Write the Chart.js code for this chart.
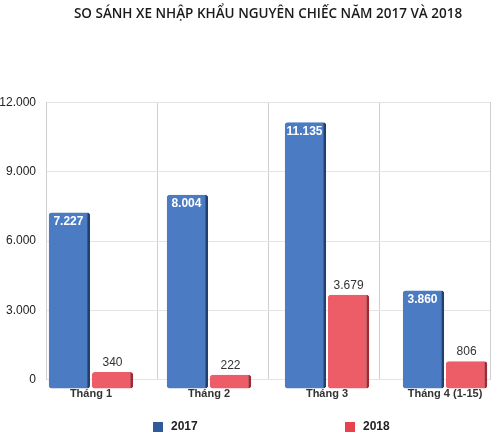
<!DOCTYPE html>
<html>
<head>
<meta charset="utf-8">
<script src="https://cdn.jsdelivr.net/npm/chart.js@4/dist/chart.umd.min.js"></script>
<style>
  html, body { margin:0; padding:0; background:#fff; }
  #wrap { width:500px; height:436px; }
</style>
</head>
<body>
<div id="wrap"><canvas id="chart" width="500" height="436"></canvas></div>
<script>
const titleText = "SO SÁNH XE NHẬP KHẨU NGUYÊN CHIẾC NĂM 2017 VÀ 2018";
const months = ["Tháng 1", "Tháng 2", "Tháng 3", "Tháng 4 (1-15)"];
const years = ["2017", "2018"];
const values2017 = [7227, 8004, 11135, 3860];
const values2018 = [340, 222, 3679, 806];
const yTicks = [0, 3000, 6000, 9000, 12000];

const fill = ["#4a7bc3", "#ec5d67"];
const side = ["#22406e", "#9e2a36"];
const legendFill = ["#2f5b9c", "#e8414f"];

function fmt(v){ return String(v).replace(/\B(?=(\d{3})+(?!\d))/g, "."); }

// value labels: 2017 inside the top (white), 2018 above the bar
const valueLabels = {
  id: "valueLabels",
  afterDatasetsDraw(chart) {
    const ctx = chart.ctx;
    ctx.save();
    ctx.textAlign = "center";
    ctx.textBaseline = "middle";
    chart.data.datasets.forEach((ds, i) => {
      chart.getDatasetMeta(i).data.forEach((bar, j) => {
        const v = ds.data[j].y;
        if (i === 0) {
          ctx.font = "bold 12px 'Liberation Sans', Arial";
          ctx.fillStyle = "#ffffff";
          ctx.fillText(fmt(v), bar.x - 1, bar.y + 9);
        } else {
          ctx.font = "12px 'Liberation Sans', Arial";
          ctx.fillStyle = "#333333";
          ctx.fillText(fmt(v), bar.x, bar.y - 9);
        }
      });
    });
    ctx.restore();
  }
};

// spread-out legend along the bottom
const wideLegend = {
  id: "wideLegend",
  afterDraw(chart) {
    const ctx = chart.ctx;
    const y = chart.height - 9;
    const xs = [chart.width * 0.306, chart.width * 0.69];
    ctx.save();
    ctx.font = "bold 12px 'Liberation Sans', Arial";
    ctx.textBaseline = "middle";
    ctx.textAlign = "left";
    years.forEach((yr, i) => {
      ctx.fillStyle = legendFill[i];
      ctx.fillRect(xs[i], y - 5, 10, 10);
      ctx.fillStyle = "#222";
      ctx.fillText(yr, xs[i] + 18, y);
    });
    ctx.restore();
  }
};

const sets = [values2017, values2018].map((vals, i) => ({
  label: years[i],
  data: vals.map((v, k) => ({ x: k, y: v })),
  backgroundColor: fill[i],
  borderColor: side[i],
  borderWidth: { top: 0, left: 0, bottom: 0, right: 3 },
  borderSkipped: false,
  borderRadius: 3,
  base: -380,
  clip: false,
  categoryPercentage: 0.73,
  barPercentage: 0.96,
}));

new Chart(document.getElementById("chart"), {
  type: "bar",
  data: { labels: months, datasets: sets },
  options: {
    responsive: false,
    animation: false,
    layout: { padding: { top: 4, right: 10, bottom: 33, left: 0 } },
    plugins: {
      legend: { display: false },
      tooltip: { enabled: false },
      title: {
        display: true,
        text: titleText,
        fullSize: false,
        color: "#1a1a1a",
        font: { family: "'Open Sans'", size: 13.5, weight: "600" },
        padding: { top: 2, bottom: 80 },
      },
    },
    scales: {
      x: {
        type: "linear",
        bounds: "data",
        offset: false,
        min: -0.381,
        max: 3.381,
        afterBuildTicks: s => { s.ticks = months.map((m, k) => ({ value: k })); },
        grid: { display: false, offset: false, drawTicks: true, tickLength: 6 },
        border: { display: false },
        ticks: {
          autoSkip: false,
          maxRotation: 0,
          padding: 2,
          color: "#333",
          font: { family: "'Liberation Sans', Arial", size: 11, weight: "bold" },
          callback: v => months[v],
        },
      },
      xg: {
        type: "category",
        labels: months,
        position: "top",
        offset: true,
        grid: { offset: true, color: "#cfcfcf", drawTicks: false },
        border: { display: false },
        ticks: { display: false },
      },
      y: {
        min: 0,
        max: 12000,
        afterBuildTicks: s => { s.ticks = yTicks.map(v => ({ value: v })); },
        afterFit: s => { s.width = 46; },
        grid: { color: "#e4e4e4", drawTicks: false },
        border: { display: true, color: "#cfcfcf" },
        ticks: {
          padding: 10,
          color: "#222",
          font: { family: "'Liberation Sans', Arial", size: 12 },
          callback: v => fmt(v),
        },
      },
    },
  },
  plugins: [valueLabels, wideLegend],
});
</script>
</body>
</html>
